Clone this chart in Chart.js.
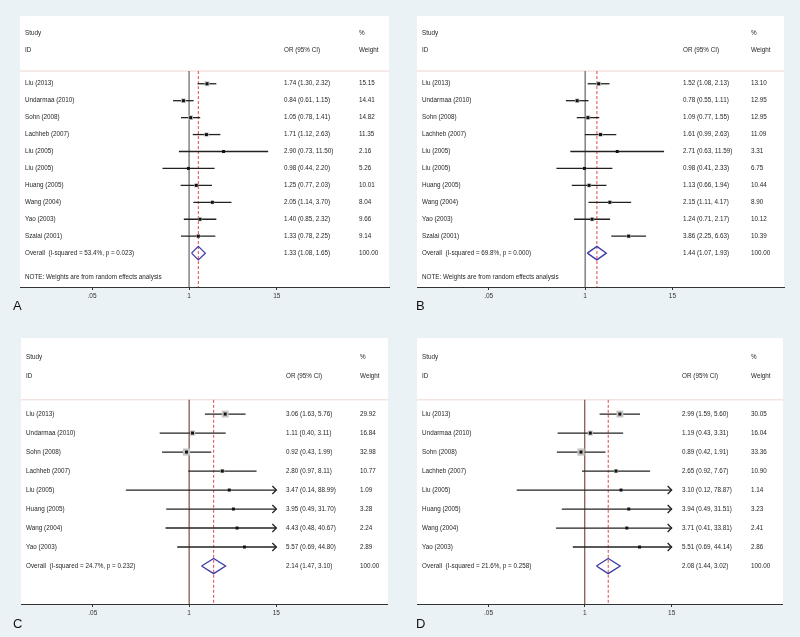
<!DOCTYPE html>
<html>
<head>
<meta charset="utf-8">
<script src="https://cdn.jsdelivr.net/npm/chart.js@4"></script>
<style>
  body { margin: 0; background: #eaf2f5; }
  #wrap { position: relative; width: 800px; height: 637px; overflow: hidden; }
  canvas { position: absolute; }
  .tag { position: absolute; font: 13px "Liberation Sans", Arial, sans-serif; line-height: 13px; color: #111; }
</style>
</head>
<body>
<div id="wrap">
  <canvas id="cA" width="377" height="295" style="left:16px;top:12px"></canvas>
  <canvas id="cB" width="375" height="295" style="left:413px;top:12px"></canvas>
  <canvas id="cC" width="377" height="291" style="left:16px;top:333px"></canvas>
  <canvas id="cD" width="376" height="291" style="left:412px;top:333px"></canvas>
  <div class="tag" style="left:13px;top:299px">A</div>
  <div class="tag" style="left:416px;top:299px">B</div>
  <div class="tag" style="left:13px;top:617px">C</div>
  <div class="tag" style="left:416px;top:617px">D</div>
</div>
<script>
// ---- data ----
const xTicks = [0.05, 1, 15];
const xTickLabels = ['.05', '1', '15'];

const studiesAB = ['Liu (2013)', 'Undarmaa (2010)', 'Sohn (2008)', 'Lachheb (2007)', 'Liu (2005)',
  'Liu (2005)', 'Huang (2005)', 'Wang (2004)', 'Yao (2003)', 'Szalai (2001)'];
const studiesCD = ['Liu (2013)', 'Undarmaa (2010)', 'Sohn (2008)', 'Lachheb (2007)', 'Liu (2005)',
  'Huang (2005)', 'Wang (2004)', 'Yao (2003)'];

const orA = [1.74, 0.84, 1.05, 1.71, 2.90, 0.98, 1.25, 2.05, 1.40, 1.33];
const loA = [1.30, 0.61, 0.78, 1.12, 0.73, 0.44, 0.77, 1.14, 0.85, 0.78];
const hiA = [2.32, 1.15, 1.41, 2.63, 11.50, 2.20, 2.03, 3.70, 2.32, 2.25];
const weightA = [15.15, 14.41, 14.82, 11.35, 2.16, 5.26, 10.01, 8.04, 9.66, 9.14];
const overallA = [1.33, 1.08, 1.65];
const hetA = 'Overall  (I-squared = 53.4%, p = 0.023)';

const orB = [1.52, 0.78, 1.09, 1.61, 2.71, 0.98, 1.13, 2.15, 1.24, 3.86];
const loB = [1.08, 0.55, 0.77, 0.99, 0.63, 0.41, 0.66, 1.11, 0.71, 2.25];
const hiB = [2.13, 1.11, 1.55, 2.63, 11.59, 2.33, 1.94, 4.17, 2.17, 6.63];
const weightB = [13.10, 12.95, 12.95, 11.09, 3.31, 6.75, 10.44, 8.90, 10.12, 10.39];
const overallB = [1.44, 1.07, 1.93];
const hetB = 'Overall  (I-squared = 69.8%, p = 0.000)';

const orC = [3.06, 1.11, 0.92, 2.80, 3.47, 3.95, 4.43, 5.57];
const loC = [1.63, 0.40, 0.43, 0.97, 0.14, 0.49, 0.48, 0.69];
const hiC = [5.76, 3.11, 1.99, 8.11, 88.99, 31.70, 40.67, 44.80];
const weightC = [29.92, 16.84, 32.98, 10.77, 1.09, 3.28, 2.24, 2.89];
const overallC = [2.14, 1.47, 3.10];
const hetC = 'Overall  (I-squared = 24.7%, p = 0.232)';

const orD = [2.99, 1.19, 0.89, 2.65, 3.10, 3.94, 3.71, 5.51];
const loD = [1.59, 0.43, 0.42, 0.92, 0.12, 0.49, 0.41, 0.69];
const hiD = [5.60, 3.31, 1.91, 7.67, 78.87, 31.51, 33.81, 44.14];
const weightD = [30.05, 16.04, 33.36, 10.90, 1.14, 3.23, 2.41, 2.86];
const overallD = [2.08, 1.44, 3.02];
const hetD = 'Overall  (I-squared = 21.6%, p = 0.258)';

const note = 'NOTE: Weights are from random effects analysis';
const clipAt = 15;
const xMin = 0.0054, xMax = 480;

// ---- drawing ----
const FONT = '6.3px "Liberation Sans", Arial, sans-serif';
const fmt = v => v.toFixed(2);

function decor(p) {
  return {
    id: 'decor',
    beforeDraw(chart) {
      const { ctx, chartArea: a } = chart;
      ctx.save();
      ctx.fillStyle = '#fff';
      ctx.fillRect(a.left, a.top, a.right - a.left, a.bottom - a.top);
      ctx.restore();
    },
    afterDatasetsDraw(chart) {
      const { ctx, chartArea: a, scales: { x, y } } = chart;
      const L = a.left;
      ctx.save();
      ctx.font = FONT;
      ctx.fillStyle = '#262626';
      ctx.textBaseline = 'middle';
      const put = (t, dx, row) => ctx.fillText(t, L + dx, y.getPixelForValue(row));
      put('Study', 5, -2);
      put('ID', 5, -1);
      put('OR (95% CI)', p.orX, -1);
      put('%', p.wX, -2);
      put('Weight', p.wX, -1);
      p.labels.forEach((lab, i) => {
        put(lab, 5, i + 1);
        put(`${fmt(p.or[i])} (${fmt(p.lo[i])}, ${fmt(p.hi[i])})`, p.orX, i + 1);
        put(fmt(p.w[i]), p.wX, i + 1);
      });
      const n = p.labels.length;
      put(p.het, 5, n + 1);
      put(`${fmt(p.ov[0])} (${fmt(p.ov[1])}, ${fmt(p.ov[2])})`, p.orX, n + 1);
      put('100.00', p.wX, n + 1);
      if (p.note) put(note, 5, n + 2.4);
      // arrow heads for truncated intervals
      ctx.strokeStyle = '#222';
      ctx.lineWidth = 1.3;
      p.hi.forEach((h, i) => {
        if (h <= clipAt) return;
        const px = x.getPixelForValue(clipAt), py = y.getPixelForValue(i + 1);
        ctx.beginPath();
        ctx.moveTo(px - 4, py - 4);
        ctx.lineTo(px, py);
        ctx.lineTo(px - 4, py + 4);
        ctx.stroke();
      });
      ctx.restore();
    }
  };
}

function line(pts, color, width, order, dash) {
  return { data: pts, showLine: true, borderColor: color, borderWidth: width, pointRadius: 0,
    borderDash: dash || [], order: order, fill: false, tension: 0 };
}

function makePanel(id, p) {
  const n = p.labels.length;
  const yMax = n + 3, sep = 0.25;
  const ds = [];
  ds.push(line([{ x: xMin, y: sep }, { x: xMax, y: sep }], '#efd6d3', 1, 10));
  ds.push(line([{ x: 1, y: sep }, { x: 1, y: yMax }], p.nullColor, 1.3, 9));
  ds.push(line([{ x: p.ov[0], y: sep }, { x: p.ov[0], y: yMax }], '#e0474a', 1, 8, [3, 2]));
  p.labels.forEach((_, i) => {
    ds.push(line([{ x: p.lo[i], y: i + 1 }, { x: Math.min(p.hi[i], clipAt), y: i + 1 }], '#222', 1.3, 5));
  });
  ds.push({ data: p.or.map((v, i) => ({ x: v, y: i + 1 })), pointStyle: 'rect',
    pointRadius: p.w.map(w => 1.25 * Math.sqrt(w) / Math.SQRT2), backgroundColor: '#c4c4c4',
    borderWidth: 0, order: 4 });
  ds.push({ data: p.or.map((v, i) => ({ x: v, y: i + 1 })), pointStyle: 'rect',
    pointRadius: 2.1, backgroundColor: '#111', borderWidth: 0, order: 3 });
  const r = n + 1, h = 0.4;
  ds.push(line([{ x: p.ov[1], y: r }, { x: p.ov[0], y: r - h }, { x: p.ov[2], y: r },
    { x: p.ov[0], y: r + h }, { x: p.ov[1], y: r }], '#3b3ba6', 1.3, 2));

  new Chart(document.getElementById(id), {
    type: 'scatter',
    data: { datasets: ds },
    options: {
      responsive: false,
      animation: false,
      events: [],
      devicePixelRatio: 1,
      layout: { padding: 0 },
      plugins: { legend: { display: false }, tooltip: { enabled: false } },
      scales: {
        x: {
          type: 'logarithmic', min: xMin, max: xMax,
          afterBuildTicks: s => { s.ticks = xTicks.map(v => ({ value: v })); },
          afterFit: s => { s.height = 20; },
          ticks: { callback: (v, i) => xTickLabels[i], color: '#333', padding: 2,
            font: { size: 6.5, family: '"Liberation Sans", Arial, sans-serif' }, maxRotation: 0 },
          grid: { display: true, drawOnChartArea: false, drawTicks: true, tickLength: 3, color: '#333' },
          border: { display: true, color: '#333', width: 1 }
        },
        y: { type: 'linear', min: -3, max: yMax, reverse: true, display: false }
      }
    },
    plugins: [decor(p)]
  });
}

makePanel('cA', { labels: studiesAB, or: orA, lo: loA, hi: hiA, w: weightA, ov: overallA, het: hetA,
  note: true, nullColor: '#6f6f6f', orX: 264, wX: 339 });
makePanel('cB', { labels: studiesAB, or: orB, lo: loB, hi: hiB, w: weightB, ov: overallB, het: hetB,
  note: true, nullColor: '#6f6f6f', orX: 266, wX: 334 });
makePanel('cC', { labels: studiesCD, or: orC, lo: loC, hi: hiC, w: weightC, ov: overallC, het: hetC,
  note: false, nullColor: '#8a5b4e', orX: 265, wX: 339 });
makePanel('cD', { labels: studiesCD, or: orD, lo: loD, hi: hiD, w: weightD, ov: overallD, het: hetD,
  note: false, nullColor: '#8a5b4e', orX: 265, wX: 334 });
</script>
</body>
</html>
